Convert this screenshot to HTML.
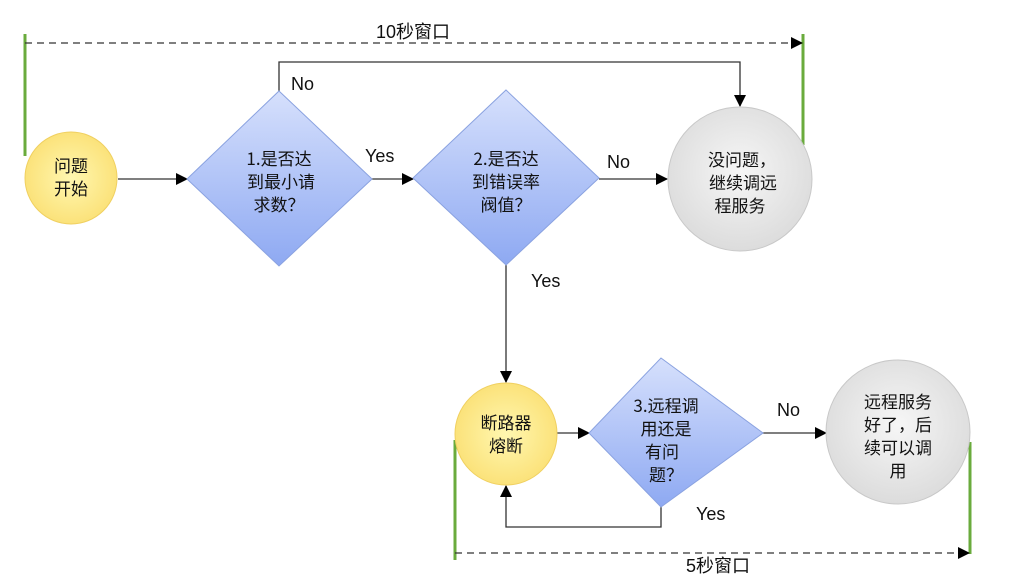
<!DOCTYPE html>
<html><head><meta charset="utf-8"><style>
html,body{margin:0;padding:0;background:#fff;width:1024px;height:583px;overflow:hidden}
text{font-family:"Liberation Sans","Noto Sans CJK SC",sans-serif;fill:#111;font-size:18px}
.cj{font-family:"Noto Sans CJK SC","Liberation Sans",sans-serif;font-size:17px}
</style></head><body>
<svg width="1024" height="583" viewBox="0 0 1024 583" xmlns="http://www.w3.org/2000/svg">
<defs>
<radialGradient id="yel" cx="50%" cy="50%" r="50%"><stop offset="0" stop-color="#fff7b0"/><stop offset="1" stop-color="#fbe27a"/></radialGradient>
<radialGradient id="gry" cx="50%" cy="45%" r="55%"><stop offset="0" stop-color="#f6f6f6"/><stop offset="1" stop-color="#dcdcdc"/></radialGradient>
<linearGradient id="blu" x1="0" y1="0" x2="0" y2="1"><stop offset="0" stop-color="#d6e0fc"/><stop offset="1" stop-color="#8ea9f2"/></linearGradient>
<marker id="ar" markerWidth="12" markerHeight="12" refX="11" refY="6" orient="auto" markerUnits="userSpaceOnUse"><path d="M0,0 L12,6 L0,12 z" fill="#000"/></marker>
</defs>
<line x1="25" y1="34" x2="25" y2="156" stroke="#6aab3c" stroke-width="3"/>
<line x1="803" y1="34" x2="803" y2="145" stroke="#6aab3c" stroke-width="3"/>
<line x1="25" y1="43" x2="802" y2="43" stroke="#333" stroke-width="1.3" stroke-dasharray="7,5" marker-end="url(#ar)"/>
<text x="413" y="38" text-anchor="middle">10秒窗口</text>
<line x1="455" y1="440" x2="455" y2="560" stroke="#6aab3c" stroke-width="3"/>
<line x1="970" y1="442" x2="970" y2="554" stroke="#6aab3c" stroke-width="3"/>
<line x1="455" y1="553" x2="969" y2="553" stroke="#333" stroke-width="1.3" stroke-dasharray="7,5" marker-end="url(#ar)"/>
<text x="718" y="572" text-anchor="middle">5秒窗口</text>
<g stroke="#333" stroke-width="1.3" fill="none">
<line x1="118" y1="179" x2="187" y2="179" marker-end="url(#ar)"/>
<line x1="372" y1="179" x2="413" y2="179" marker-end="url(#ar)"/>
<line x1="599" y1="179" x2="667" y2="179" marker-end="url(#ar)"/>
<polyline points="279,91 279,62 740,62 740,106" marker-end="url(#ar)"/>
<line x1="506" y1="265" x2="506" y2="382" marker-end="url(#ar)"/>
<line x1="557" y1="433" x2="589" y2="433" marker-end="url(#ar)"/>
<line x1="763" y1="433" x2="826" y2="433" marker-end="url(#ar)"/>
<polyline points="661,505 661,527 506,527 506,486" marker-end="url(#ar)"/>
</g>
<circle cx="71" cy="178" r="46" fill="url(#yel)" stroke="#f0d060" stroke-width="1"/>
<polygon points="279,91 372,179 279,266 187,179" fill="url(#blu)" stroke="#8aa2e0"/>
<polygon points="506,90 599,178 506,265 413,178" fill="url(#blu)" stroke="#8aa2e0"/>
<circle cx="740" cy="179" r="72" fill="url(#gry)" stroke="#c8c8c8"/>
<circle cx="506" cy="434" r="51" fill="url(#yel)" stroke="#f0d060"/>
<polygon points="661,358 763,433 661,507 589,433" fill="url(#blu)" stroke="#8aa2e0"/>
<circle cx="898" cy="432" r="72" fill="url(#gry)" stroke="#c8c8c8"/>
<g text-anchor="middle" class="cj">
<text class="cj" x="71" y="172">问题</text><text class="cj" x="71" y="195">开始</text>
<text class="cj" x="279" y="165">1.是否达</text><text class="cj" x="281" y="188">到最小请</text><text class="cj" x="279" y="211">求数？</text>
<text class="cj" x="506" y="165">2.是否达</text><text class="cj" x="506" y="188">到错误率</text><text class="cj" x="506" y="211">阀值？</text>
<text class="cj" x="742" y="166">没问题，</text><text class="cj" x="743" y="189">继续调远</text><text class="cj" x="740" y="212">程服务</text>
<text class="cj" x="506" y="429">断路器</text><text class="cj" x="506" y="452">熔断</text>
<text class="cj" x="666" y="412">3.远程调</text><text class="cj" x="666" y="435">用还是</text><text class="cj" x="662" y="458">有问</text><text class="cj" x="666" y="481">题？</text>
<text class="cj" x="898" y="408">远程服务</text><text class="cj" x="898" y="431">好了，后</text><text class="cj" x="898" y="454">续可以调</text><text class="cj" x="898" y="477">用</text>
</g>
<text x="291" y="90">No</text>
<text x="365" y="162">Yes</text>
<text x="607" y="168">No</text>
<text x="531" y="287">Yes</text>
<text x="777" y="416">No</text>
<text x="696" y="520">Yes</text>
</svg>
</body></html>
